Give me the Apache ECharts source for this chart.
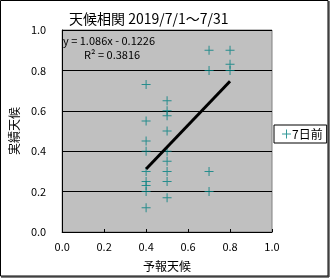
<!DOCTYPE html>
<html><head><meta charset="utf-8">
<script src="https://cdn.jsdelivr.net/npm/echarts@6/dist/echarts.min.js"></script>
<style>html,body{margin:0;padding:0;background:#fff}#c{width:330px;height:278px}</style>
</head><body><div id="c"></div>
<script>
var titleText = '天候相関 2019/7/1～7/31';
var seriesName = '7日前';
var xName = '予報天候';
var yName = '実績天候';
var xTickLabels = ['0.0','0.2','0.4','0.6','0.8','1.0'];
var yTickLabels = ['0.0','0.2','0.4','0.6','0.8','1.0'];
var forecastX = [0.4,0.4,0.4,0.4,0.4,0.4,0.4,0.4,0.4, 0.5,0.5,0.5,0.5,0.5,0.5,0.5,0.5,0.5, 0.7,0.7,0.7,0.7, 0.8,0.8,0.8];
var actualY  = [0.73,0.55,0.45,0.40,0.30,0.25,0.23,0.20,0.12, 0.65,0.60,0.575,0.50,0.40,0.35,0.30,0.25,0.17, 0.90,0.80,0.30,0.20, 0.90,0.83,0.80];
var trendX = [0.4, 0.8];
var trendY = [0.312, 0.746];
var eqLine1 = 'y = 1.086x - 0.1226';
var eqLine2 = 'R² = 0.3816';

var FONT = '"Noto Sans CJK JP", "DejaVu Sans", sans-serif';
var NUMFONT = '"DejaVu Sans", sans-serif';
var PLUS = 'path://M4,0h1v4h4v1h-4v4h-1v-4h-4v-1h4z';
var teal = '#008080';
var pts = forecastX.map(function(x,i){return [x, actualY[i]];});
var trend = trendX.map(function(x,i){return [x, trendY[i]];});

var chart = echarts.init(document.getElementById('c'), null, {renderer:'canvas'});
chart.setOption({
  animation:false,
  backgroundColor:'#fff',
  title:{text:titleText, left:64, top:7, textStyle:{fontFamily:FONT, fontSize:14, fontWeight:'normal', color:'#000'}},
  grid:{left:58, right:58, top:30, bottom:46, show:true, backgroundColor:'#c0c0c0', borderColor:'#808080', borderWidth:1},
  legend:{data:[{name:seriesName, icon:PLUS}], left:274, top:125, orient:'vertical', borderColor:'#000', borderWidth:1, padding:[3,4,3,8], itemWidth:9, itemHeight:9, itemGap:2,
    textStyle:{fontFamily:FONT, fontSize:12, color:'#000', padding:[0,0,0,-4]}},
  xAxis:{type:'value', min:0, max:1, interval:0.2, name:xName, nameLocation:'middle', nameGap:28,
    nameTextStyle:{fontFamily:FONT, fontSize:12, color:'#000'},
    axisLine:{show:true, lineStyle:{color:'#000', width:1}},
    axisTick:{show:true, inside:true, length:3, lineStyle:{color:'#000'}},
    axisLabel:{fontFamily:FONT, fontSize:11, color:'#000', margin:9, formatter:function(v){return xTickLabels[Math.round(v/0.2)];}},
    splitLine:{show:false}},
  yAxis:{type:'value', min:0, max:1, interval:0.2, name:yName, nameLocation:'middle', nameGap:37, nameRotate:90,
    nameTextStyle:{fontFamily:FONT, fontSize:12, color:'#000'},
    axisLine:{show:true, lineStyle:{color:'#000', width:1}},
    axisTick:{show:false},
    axisLabel:{fontFamily:FONT, fontSize:11, color:'#000', margin:16, formatter:function(v){return yTickLabels[Math.round(v/0.2)];}},
    splitLine:{show:true, lineStyle:{color:'#000', width:1}}},
  series:[
    {name:seriesName, type:'scatter', data:pts, symbol:PLUS, symbolSize:9, itemStyle:{color:teal}, z:3},
    {name:'trend', type:'line', data:trend, symbol:'none', lineStyle:{color:'#000', width:3}, z:4}
  ],
  graphic:[
    {type:'text', left:63, top:35, style:{text:eqLine1, font:'11px '+FONT, fill:'#000'}},
    {type:'text', left:84, top:49, style:{text:eqLine2, font:'11px '+FONT, fill:'#000'}},
    {type:'rect', shape:{x:0.5,y:0.5,width:327.5,height:275.5}, style:{fill:'none', stroke:'#000', lineWidth:1}},
    {type:'line', shape:{x1:329,y1:1,x2:329,y2:277}, style:{stroke:'#000', lineWidth:1}},
    {type:'line', shape:{x1:1,y1:277,x2:329,y2:277}, style:{stroke:'#000', lineWidth:1}}
  ]
});
</script></body></html>
